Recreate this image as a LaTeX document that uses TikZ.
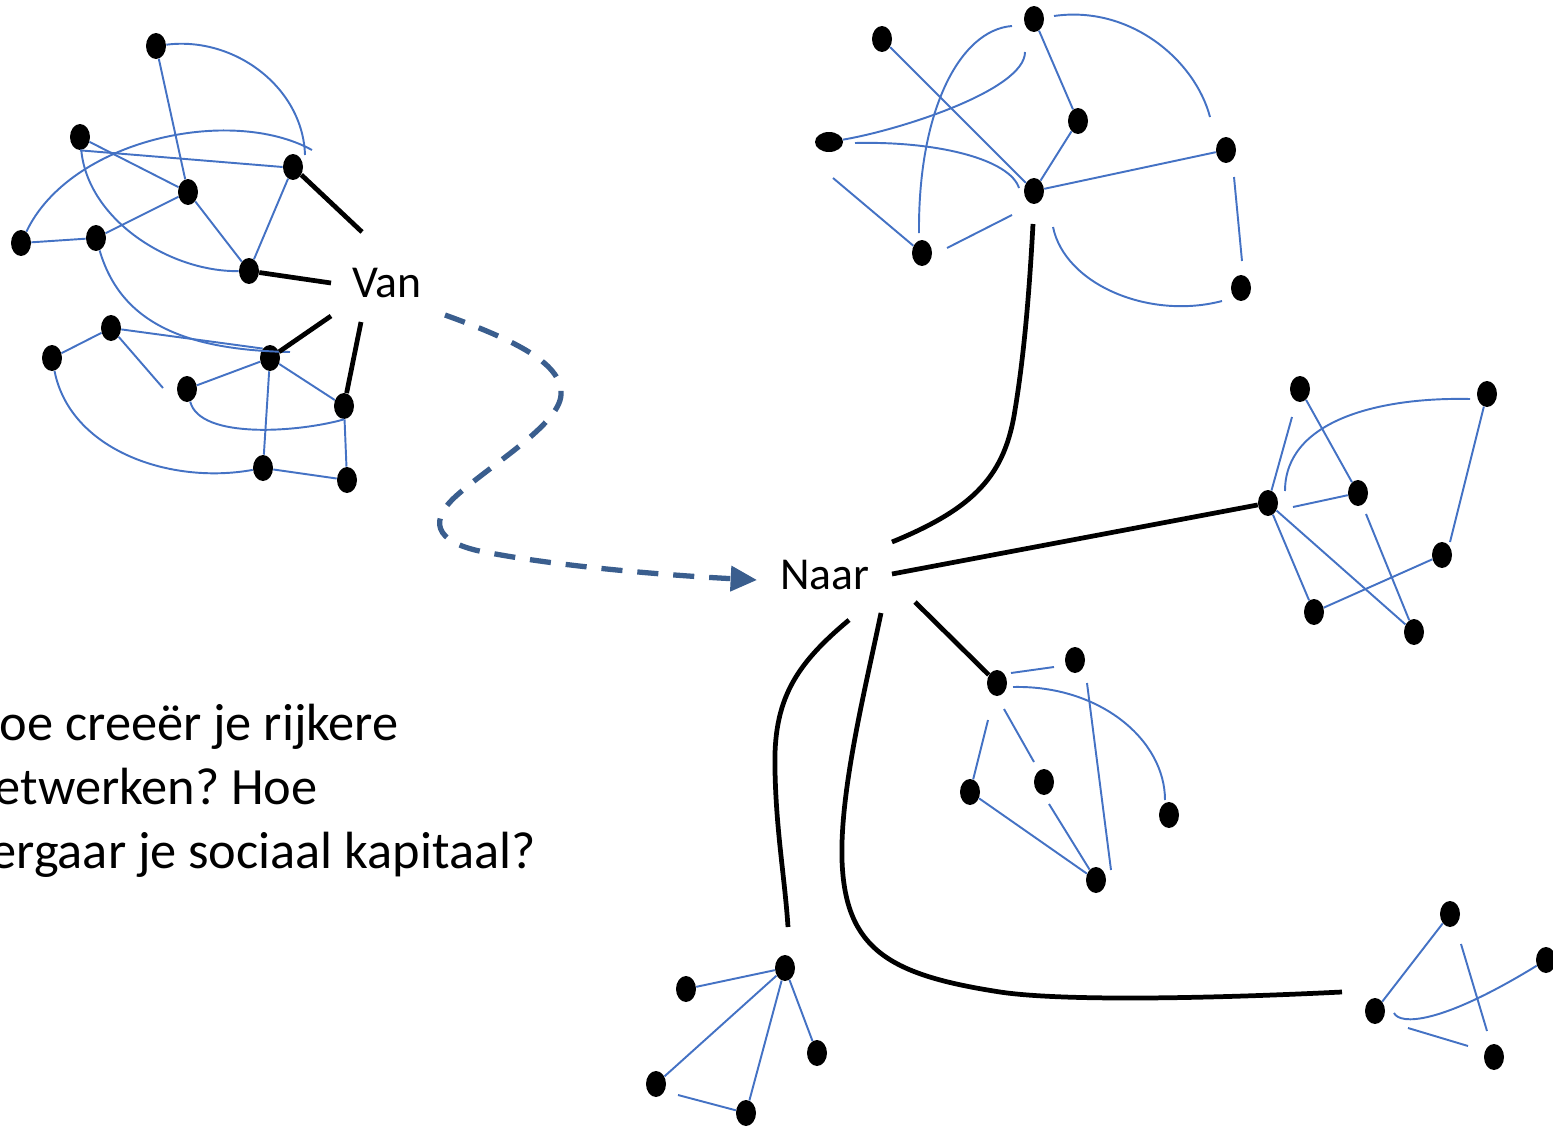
\documentclass[tikz,border=0pt]{standalone}
\usepackage{fontspec}
\setmainfont{Carlito}
\usepackage{tikz}
\usetikzlibrary{calc,shapes,arrows,arrows.meta}
\definecolor{netblue}{RGB}{68,114,196}
\definecolor{routeblue}{RGB}{58,94,142}
\tikzset{
  dot/.style={ellipse,fill=black,minimum width=0.4cm,minimum height=0.52cm,inner sep=0pt},
  flatdot/.style={dot,minimum width=0.56cm,minimum height=0.4cm},
  tie/.style={netblue,line width=1.1pt},
  bond/.style={black,line width=2.7pt},
  route/.style={routeblue,line width=3pt,dash pattern=on 12pt off 8.5pt,-{Triangle[length=15pt,width=14pt]}},
  word/.style={font=\fontsize{26}{31}\selectfont,inner sep=0pt},
  question/.style={font=\fontsize{29.8}{36.4}\selectfont\frenchspacing,inner sep=0pt,align=left}
}

\begin{document}
\begin{tikzpicture}[x=0.02cm,y=-0.02cm]
    \useasboundingbox (0,0) rectangle (1553,1129);
    \clip (0,0) rectangle (1553,1129);

    \foreach \n/\x/\y in {v1/156/46,v2/80/137,v3/293/167,v4/188/192,v5/21/243,v6/96/238,v7/249/271,
        v8/111/328,v9/52/358,v10/270/358,v11/187/389,v12/344/406,v13/263/468,v14/347/480,
        b1/882/39,b2/1034/19,b3/1078/121,b5/1226/150,b6/1034/191,b7/922/253,b8/1241/288,
        c1/1300/389,c2/1487/394,c3/1268/503,c4/1358/493,c5/1442/555,c6/1314/612,c7/1414/632,
        d1/997/683,d2/1075/660,d3/970/792,d4/1044/782,d5/1169/815,d6/1096/880,
        e1/785/968,e2/686/989,e3/817/1053,e4/656/1084,e5/746/1113,
        f1/1450/914,f2/1546/960,f3/1375/1011,f4/1494/1057}
    \node[dot] (\n) at (\x,\y) {};
    \node[flatdot] (b4) at (829,142) {};

    \foreach \n/\x/\y in {pv1/305/155,pv2/312/150,pv3/290/352,pv4/163/388,
        van1/362/232,van2/331/283,van3/331/316,van4/361/322,
        pb1/1054/16,pb2/1210/117,pb3/1012/26,pb4/919/233,pb5/1025/52,pb6/855/143,pb7/1019/188,
        pb8/833/178,pb9/947/248,pb10/1012/215,pb11/1053/227,pb12/1222/301,pb13/1234/177,pb14/1242/261,
        pc1/1292/417,pc2/1285/491,pc3/1470/399,pc4/1293/507,pc5/1450/542,pc6/1366/514,
        pd1/1011/673,pd2/1054/667,pd3/1013/687,pd4/1165/800,pd5/1087/683,pd6/1111/870,
        pd7/988/720,pd8/1004/709,pd9/1034/762,pd10/1049/804,
        pe1/678/1095,pf1/1461/944,pf2/1487/1031,pf3/1394/1013,pf4/1408/1028,pf5/1468/1046,
        pn1/892/542,pn2/1033/224,pn3/892/574,pn4/915/602,pn5/849/620,pn6/788/927,pn7/881/613,pn8/1342/992,
        pa1/445/315,pa2/757/580}
    \coordinate (\n) at (\x,\y);

    \node[word] (van) at (387,283) {Van};
    \node[word] (naar) at (825,575) {Naar};
    \node[question,anchor=base west] (vraag) at (-33,868)
        {Hoe creeër je rijkere\\netwerken? Hoe\\vergaar je sociaal kapitaal?};

    \foreach \a/\b in {v1/v4,v2/v4,v4/v7,v3/v7,v6/v4,v5/v6,v9/v8,v11/v10,v10/v12,v10/v13,v12/v14,v13/v14,pv4/v8,
        b1/b6,b2/b3,b3/b6,b6/b5,pb8/b7,pb9/pb10,pb13/pb14,
        pc1/c3,c1/c4,pc4/c4,c2/pc5,c3/c6,c3/c7,pc6/c7,c6/c5,
        pd1/pd2,pd5/pd6,pd7/d3,pd8/pd9,d3/d6,pd10/d6,
        e2/e1,e4/e1,e5/e1,e1/e3,pe1/e5,
        f3/f1,pf1/pf2,pf4/pf5}
    \draw[tie] (\a) -- (\b);
    \draw[tie] (v2.south) -- (v3.west);
    \draw[tie] (v8) -- (v10.north west);

    \draw[tie] (v1) .. controls (235,36) and (303,88) .. (pv1);
    \draw[tie] (v5) .. controls (70,140) and (230,105) .. (pv2);
    \draw[tie] (v2) .. controls (88,220) and (170,272) .. (v7);
    \draw[tie] (v6) .. controls (120,320) and (180,350) .. (pv3);
    \draw[tie] (v11) .. controls (200,440) and (300,432) .. (v12.south);
    \draw[tie] (v9) .. controls (70,450) and (170,485) .. (v13);

    \draw[tie] (pb1) .. controls (1130,5) and (1195,60) .. (pb2);
    \draw[tie] (pb3) .. controls (960,30) and (918,110) .. (pb4);
    \draw[tie] (b4) .. controls (900,130) and (1025,90) .. (pb5);
    \draw[tie] (pb6) .. controls (940,141) and (1010,160) .. (pb7);
    \draw[tie] (pb11) .. controls (1065,285) and (1150,320) .. (pb12);
    \draw[tie] (pc2) .. controls (1285,420) and (1380,397) .. (pc3);
    \draw[tie] (pd3) .. controls (1100,685) and (1165,740) .. (pd4);
    \draw[tie] (pf3) .. controls (1400,1025) and (1440,1025) .. (f2);

    % van en naar
    \draw[bond] (v3) -- (van1);
    \draw[bond] (v7) -- (van2);
    \draw[bond] (v10) -- (van3);
    \draw[bond] (v12) -- (van4);
    \draw[bond] (pn1) .. controls (975,508) and (1005,475) .. (1015,410)
        .. controls (1025,350) and (1030,280) .. (pn2);
    \draw[bond] (pn3) -- (c3);
    \draw[bond] (pn4) -- (d1);
    \draw[bond] (pn5) .. controls (795,665) and (773,700) .. (775,770)
        .. controls (776,830) and (785,880) .. (pn6);
    \draw[bond] (pn7) .. controls (865,690) and (840,790) .. (842,860)
        .. controls (845,950) and (890,975) .. (1000,992)
        .. controls (1060,1001) and (1200,999) .. (pn8);

    \draw[route] (pa1) .. controls (520,342) and (563,365) .. (561,395)
        .. controls (559,425) and (490,465) .. (455,497)
        .. controls (425,525) and (440,545) .. (490,553)
        .. controls (570,568) and (680,576) .. (pa2);
\end{tikzpicture}
\end{document}
